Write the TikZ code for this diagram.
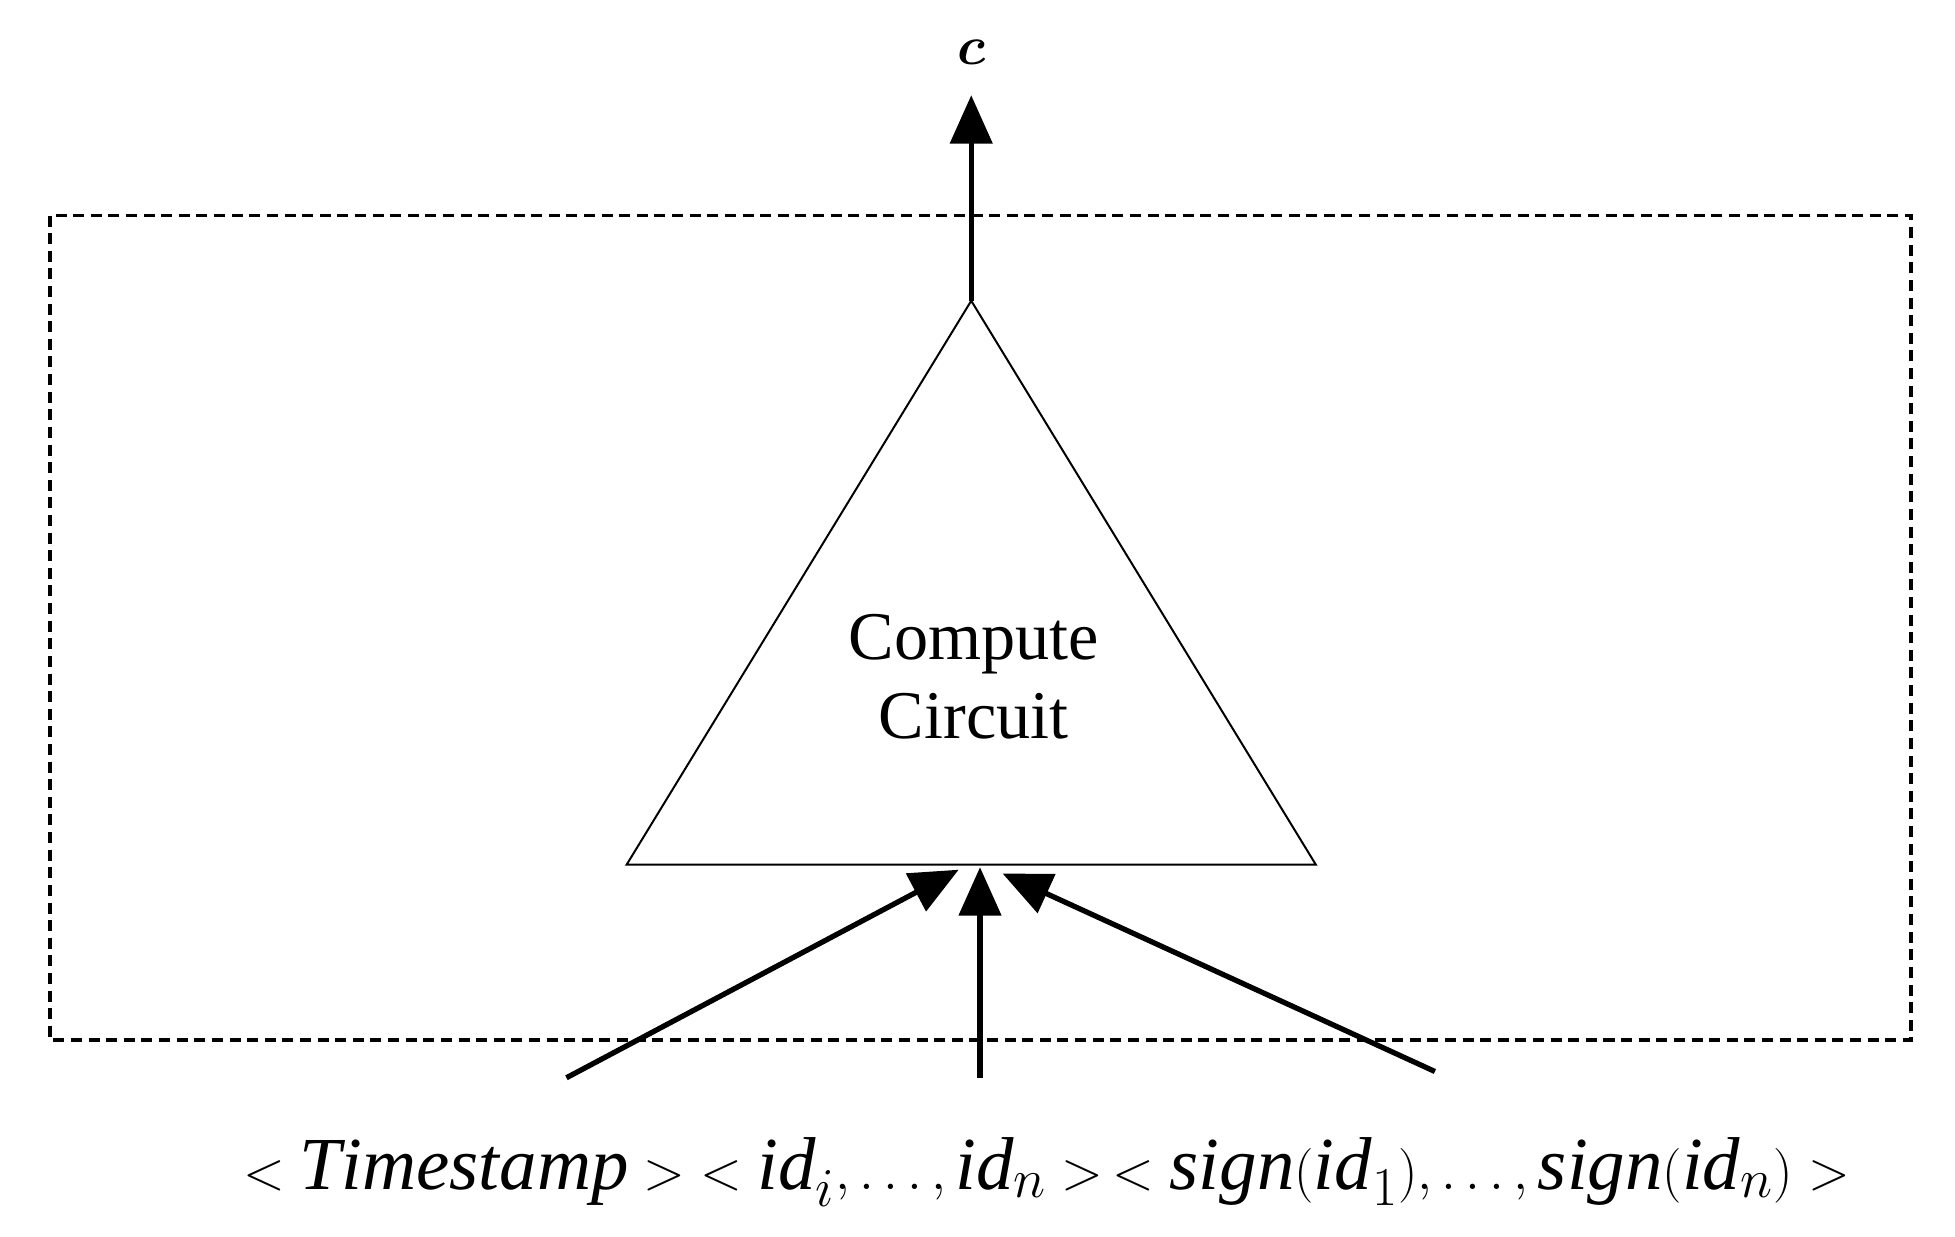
\documentclass[tikz,border=0pt]{standalone}
\usepackage{amsmath}
\usepackage{bm}
\usepackage{fontspec}
\setmainfont{Liberation Serif}
\usetikzlibrary{arrows.meta}
\begin{document}
\begin{tikzpicture}[x=0.02cm,y=-0.02cm,
  arr/.style={line width=2.4pt,-{Triangle[length=22pt,width=19pt]}},
  lbl/.style={font=\fontsize{31}{36}\selectfont,align=center}]
\useasboundingbox (0,0) rectangle (1560,987);
\draw[line width=1.7pt,dash pattern=on 5pt off 3pt] (40,172) rectangle (1525,830);
\coordinate (apex) at (775,240);
\coordinate (bl) at (500,690);
\coordinate (br) at (1050,690);
\draw[line width=0.9pt] (apex) -- (bl) -- (br) -- cycle;
\node[lbl] (cc) at (777,540) {Compute\\Circuit};
\node (c) at (775,42) {\fontsize{44}{50}\selectfont$\bm{c}$};
\coordinate (ctop) at (775,76);
\draw[arr] (apex) -- (ctop);
\coordinate (s1) at (452,860); \coordinate (t1) at (765,694);
\coordinate (s2) at (782,860); \coordinate (t2) at (782,692);
\coordinate (s3) at (1145,855); \coordinate (t3) at (800,697);
\draw[arr] (s1) -- (t1);
\draw[arr] (s2) -- (t2);
\draw[arr] (s3) -- (t3);
\node (f) at (835,935) {\fontsize{34}{40}\selectfont$<\mathit{Timestamp}>\;<\mathit{id}_i,\ldots,\mathit{id}_n>\,<\mathit{sign}(\mathit{id}_1),\ldots,\mathit{sign}(\mathit{id}_n)>$};
\end{tikzpicture}
\end{document}
